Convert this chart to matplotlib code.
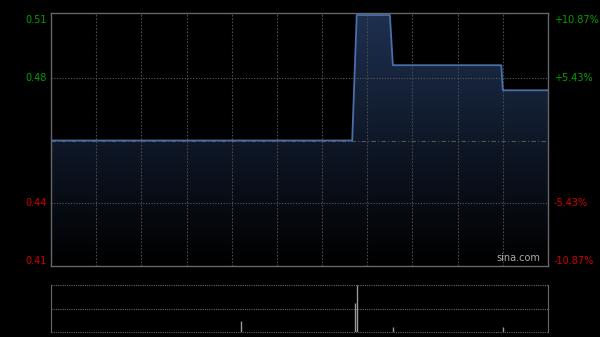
import matplotlib
matplotlib.use("Agg")
import matplotlib.pyplot as plt
import numpy as np
from matplotlib.colors import LinearSegmentedColormap

# Intraday price (minutes since open, price)
minutes = [0, 200, 203, 225, 227, 299, 300, 330]
prices = [0.46, 0.46, 0.51, 0.51, 0.49, 0.49, 0.48, 0.48]

# Volume spikes (minutes since open, relative volume)
vol_minutes = [126, 202, 203, 227, 300]
vol_values = [23, 62, 100, 11, 11]

prev_close = 0.46
price_ticks = [0.51, 0.485, 0.46, 0.435, 0.41]
price_labels = ["0.51", "0.48", "", "0.44", "0.41"]
pct_labels = ["+10.87%", "+5.43%", "", "-5.43%", "-10.87%"]

GREEN = "#00a000"
RED = "#d00000"
GRID = "#4a4a4a"


def main():
	fig = plt.figure(figsize=(6, 3.37), dpi=100)
	fig.patch.set_facecolor("black")

	ax = fig.add_axes([51 / 600, 1 - 266 / 337, 497 / 600, 253 / 337])
	ax.set_facecolor("black")
	ax.set_xlim(0, 330)
	ax.set_ylim(0.41, 0.5108)

	# Gradient fill below the line
	cmap = LinearSegmentedColormap.from_list("fill", ["#000000", "#1e3050"])
	grad = np.linspace(0, 1, 256).reshape(-1, 1)
	img = ax.imshow(grad, extent=[0, 330, 0.41, 0.5108], origin="lower",
					cmap=cmap, aspect="auto", zorder=1)
	poly = ax.fill_between(minutes, prices, 0.41, color="none", zorder=1)
	img.set_clip_path(poly.get_paths()[0], transform=ax.transData)

	# Grid
	for i in range(1, 11):
		ax.axvline(i * 30, color=GRID, lw=0.8, ls=(0, (1.5, 1.5)), zorder=2)
	for t in [0.485, 0.435]:
		ax.axhline(t, color="#5a5a5a", lw=0.8, ls=(0, (1, 1.5)), zorder=2)
	ax.axhline(prev_close, color="#555555", lw=0.8, ls=(0, (4, 2, 1, 2)), zorder=2)

	ax.plot(minutes, prices, color="#4a6ea8", lw=1.3, zorder=3)

	for s in ax.spines.values():
		s.set_color("#666666")
		s.set_linewidth(1)
	ax.set_xticks([])
	ax.set_yticks([])

	# Axis labels
	for i, (t, lab, pct) in enumerate(zip(price_ticks, price_labels, pct_labels)):
		if not lab:
			continue
		color = GREEN if t > prev_close else RED
		va = "center"
		if i == 0:
			va = "top"
		elif i == len(price_ticks) - 1:
			va = "bottom"
		ax.annotate(lab, xy=(0, t), xycoords=("axes fraction", "data"),
					xytext=(-3, 0), textcoords="offset points", color=color,
					fontsize=7, ha="right", va=va)
		ax.annotate(pct, xy=(1, t), xycoords=("axes fraction", "data"),
					xytext=(4, 0), textcoords="offset points", color=color,
					fontsize=7, ha="left", va=va)

	ax.text(0.985, 0.012, "sina.com", color="#aaaaaa", fontsize=7,
			ha="right", va="bottom", transform=ax.transAxes, zorder=4)

	# Volume panel
	vax = fig.add_axes([51 / 600, 1 - 332 / 337, 497 / 600, 47 / 337])
	vax.set_facecolor("black")
	vax.set_xlim(0, 330)
	vax.set_ylim(0, 100)
	vax.vlines(vol_minutes, 0, vol_values, color="#999999", lw=1)
	for y in [0, 50, 100]:
		vax.axhline(y, color="#666666", lw=0.8, ls=(0, (1, 1)), clip_on=False)
	for side in ["top", "bottom"]:
		vax.spines[side].set_visible(False)
	for side in ["left", "right"]:
		vax.spines[side].set_color("#666666")
	vax.set_xticks([])
	vax.set_yticks([])

	fig.savefig("out.png", dpi=100, facecolor="black")


if __name__ == "__main__":
	main()
